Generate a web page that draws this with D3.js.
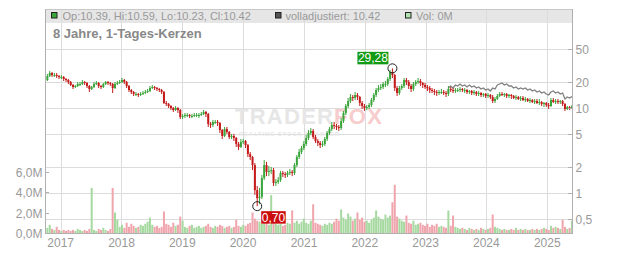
<!DOCTYPE html>
<html>
<head>
<meta charset="utf-8">
<script src="https://cdnjs.cloudflare.com/ajax/libs/d3/7.8.5/d3.min.js"></script>
<style>
  body { margin: 0; background: #fff; }
  text { font-family: "Liberation Sans", Arial, sans-serif; }
</style>
</head>
<body>
<div id="chart"></div>
<script>
// chart size
var svgWidth = 632;
var svgHeight = 253;

// plot box
var plot = { left: 45, right: 572, top: 9, bottom: 233 };

// candles: one every 14 days, starting here
var startDate = new Date(2016, 8, 29);
var stepDays = 14;
var firstOpen = 20.78;

var closes = [
  21.35, 23.80, 25.81, 24.45, 24.45, 23.80, 23.16, 23.16, 21.94, 21.35,
  20.22, 18.64, 17.66, 18.15, 19.16, 19.16, 20.22, 19.68, 18.15, 16.73,
  17.66, 19.16, 19.68, 18.15, 17.66, 19.16, 20.22, 19.68, 19.16, 17.19,
  19.16, 19.68, 20.22, 21.35, 20.22, 18.15, 16.28, 15.42, 14.61, 14.61,
  14.22, 14.61, 15.01, 15.42, 15.85, 17.19, 17.66, 17.19, 16.73, 16.28,
  15.42, 11.45, 11.14, 10.55, 10.00, 9.47, 10.00, 9.47, 7.84, 8.05,
  8.27, 8.27, 8.05, 8.05, 8.27, 8.27, 8.27, 8.50, 8.97, 8.50,
  6.49, 6.31, 6.85, 6.85, 6.66, 5.51, 4.69, 5.66, 5.22, 4.56,
  4.69, 4.44, 3.77, 3.48, 3.98, 4.09, 3.67, 2.87, 2.65, 2.13,
  1.08, 0.87, 0.90, 1.50, 2.13, 1.77, 1.82, 1.86, 1.31, 1.35,
  1.42, 1.72, 1.67, 1.63, 1.72, 1.77, 1.72, 2.13, 2.65, 3.04,
  3.38, 3.77, 4.44, 5.08, 5.37, 4.56, 4.09, 3.88, 3.67, 3.77,
  4.32, 5.08, 5.66, 6.31, 6.14, 5.98, 5.82, 7.03, 8.73, 10.55,
  12.08, 13.47, 13.11, 14.22, 13.47, 11.45, 10.55, 10.00, 10.27, 10.84,
  12.42, 14.22, 16.28, 17.19, 17.66, 19.16, 19.16, 21.94, 26.52, 24.45,
  17.19, 15.01, 17.19, 18.15, 21.35, 20.22, 18.15, 16.73, 19.16, 20.22,
  20.78, 19.68, 18.64, 17.66, 17.19, 16.28, 15.85, 15.42, 15.01, 15.42,
  15.42, 15.01, 14.61, 16.73, 16.28, 15.85, 16.28, 16.28, 16.73, 16.28,
  16.28, 15.42, 15.85, 15.01, 15.42, 14.61, 15.01, 14.22, 14.61, 13.84,
  14.22, 13.47, 12.08, 12.76, 13.84, 14.61, 14.22, 14.61, 13.84, 14.22,
  13.84, 13.11, 13.47, 12.76, 13.11, 12.42, 12.76, 12.08, 12.42, 11.76,
  12.08, 11.45, 11.76, 11.14, 11.45, 10.84, 10.55, 12.42, 11.76, 12.08,
  11.76, 12.08, 11.14, 9.73, 10.27, 10.00, 10.42
];

var highs = [
  22.54, 25.12, 27.25, 26.52, 25.81, 25.81, 24.45, 24.45, 23.80, 22.54,
  21.94, 20.78, 19.16, 18.64, 20.22, 20.22, 21.35, 20.78, 20.22, 18.64,
  18.15, 20.22, 20.78, 20.22, 18.64, 19.68, 20.78, 20.78, 20.22, 19.68,
  20.22, 20.78, 21.35, 22.54, 21.94, 20.78, 18.64, 16.73, 15.85, 15.42,
  15.01, 15.42, 15.85, 16.28, 16.73, 18.15, 18.64, 18.15, 17.66, 17.19,
  16.73, 15.85, 12.08, 11.45, 10.84, 10.27, 10.55, 10.27, 9.73, 8.50,
  8.73, 8.73, 8.50, 8.50, 8.73, 8.73, 8.73, 8.97, 9.47, 9.22,
  8.73, 6.85, 7.23, 7.23, 7.23, 6.85, 5.66, 5.98, 5.98, 5.37,
  4.95, 4.95, 4.56, 3.98, 4.32, 4.32, 4.20, 3.77, 3.04, 2.72,
  2.25, 1.21, 1.15, 1.63, 2.44, 2.32, 2.08, 2.02, 1.97, 1.46,
  1.54, 1.82, 1.82, 1.77, 1.82, 1.92, 1.86, 2.25, 2.80, 3.29,
  3.57, 4.09, 4.82, 5.51, 5.82, 5.66, 4.82, 4.32, 4.09, 4.09,
  4.56, 5.37, 5.98, 6.85, 6.85, 6.49, 6.31, 7.63, 9.22, 11.14,
  13.11, 14.61, 14.22, 15.42, 15.01, 13.84, 12.08, 11.14, 10.84, 11.45,
  13.11, 15.01, 17.19, 18.64, 19.16, 20.22, 20.78, 23.16, 28.00, 29.28,
  25.12, 18.15, 18.15, 19.16, 22.54, 22.54, 21.35, 19.16, 20.22, 21.35,
  22.54, 21.94, 20.22, 19.68, 18.64, 18.15, 17.19, 16.73, 16.28, 16.28,
  16.73, 16.28, 15.85, 18.15, 17.66, 17.19, 17.19, 17.19, 17.66, 17.19,
  17.19, 16.73, 16.28, 16.28, 16.28, 15.85, 15.85, 15.42, 15.01, 15.01,
  15.01, 14.61, 14.22, 13.47, 14.61, 15.42, 15.42, 15.01, 15.01, 14.61,
  14.61, 14.22, 14.22, 13.84, 13.84, 13.84, 13.47, 13.11, 13.11, 12.76,
  12.76, 12.76, 12.76, 12.08, 11.76, 11.76, 11.45, 13.11, 13.11, 12.76,
  12.76, 12.42, 12.42, 11.45, 10.55, 10.55, 10.84
];

var lows = [
  20.22, 20.78, 23.16, 23.16, 23.16, 22.54, 21.94, 21.94, 20.78, 20.22,
  19.16, 18.15, 16.73, 17.19, 17.66, 18.15, 18.64, 18.64, 17.19, 15.42,
  16.28, 17.19, 18.64, 17.19, 16.73, 17.19, 18.64, 18.64, 18.15, 15.01,
  16.73, 18.64, 19.16, 19.68, 19.16, 17.19, 15.42, 14.61, 13.84, 13.84,
  13.47, 13.84, 14.22, 14.61, 15.01, 15.42, 16.73, 16.28, 15.85, 15.42,
  14.61, 11.14, 10.55, 10.00, 9.47, 8.97, 9.22, 8.73, 7.42, 7.42,
  7.63, 7.84, 7.63, 7.63, 7.84, 7.84, 7.63, 8.05, 8.27, 7.84,
  5.98, 5.82, 5.98, 6.49, 6.14, 5.08, 4.32, 4.56, 4.95, 4.32,
  4.32, 4.09, 3.48, 3.20, 3.38, 3.77, 3.38, 2.65, 2.44, 1.86,
  0.95, 0.70, 0.74, 0.85, 1.42, 1.58, 1.58, 1.67, 1.21, 1.21,
  1.28, 1.35, 1.54, 1.50, 1.54, 1.63, 1.58, 1.63, 2.02, 2.51,
  2.87, 3.20, 3.57, 4.20, 4.82, 4.32, 3.88, 3.57, 3.38, 3.48,
  3.57, 4.09, 4.82, 5.37, 5.66, 5.51, 5.37, 5.51, 6.66, 8.27,
  10.00, 11.45, 12.08, 12.42, 12.42, 10.55, 9.73, 9.22, 9.47, 9.73,
  10.27, 11.76, 13.47, 15.42, 16.28, 16.73, 17.66, 18.15, 20.78, 22.54,
  15.85, 13.84, 14.22, 16.28, 17.19, 18.64, 16.73, 15.42, 15.85, 18.15,
  19.16, 18.15, 17.19, 16.73, 15.85, 15.01, 15.01, 14.22, 13.84, 14.22,
  14.61, 14.22, 13.47, 13.84, 15.42, 15.01, 15.01, 15.42, 15.42, 15.42,
  15.01, 14.61, 14.61, 14.22, 14.22, 13.84, 13.84, 13.47, 13.47, 13.11,
  13.11, 12.76, 11.45, 11.45, 12.42, 13.47, 13.84, 13.47, 13.11, 13.11,
  12.76, 12.76, 12.42, 12.42, 12.08, 12.08, 11.76, 11.76, 11.45, 11.45,
  11.14, 11.14, 10.84, 10.55, 10.27, 10.27, 9.73, 10.27, 11.45, 11.14,
  11.14, 11.14, 10.55, 9.22, 9.47, 9.47, 9.85
];

// volume in millions
var volumes = [
  0.7, 0.5, 0.8, 0.4, 0.3, 0.6, 0.3, 0.2, 0.3, 0.2,
  0.3, 0.2, 0.3, 0.2, 0.4, 0.3, 0.2, 0.3, 0.2, 0.4,
  4.4, 0.3, 0.2, 0.4, 0.3, 0.5, 0.3, 0.2, 0.4, 4.4,
  2.0, 1.3, 0.6, 0.8, 0.5, 1.0, 0.6, 0.9, 0.7, 0.5,
  0.6, 0.8, 0.7, 0.9, 1.1, 1.5, 0.8, 0.6, 0.7, 0.5,
  0.6, 2.1, 0.9, 0.8, 0.6, 1.0, 0.7, 0.8, 1.6, 1.2,
  0.6, 0.5, 0.7, 0.8, 0.5, 0.6, 0.7, 0.5, 0.6, 0.7,
  0.9, 0.6, 0.5, 0.7, 0.6, 0.8, 0.7, 0.5, 0.6, 0.7,
  0.5, 0.6, 1.3, 0.7, 0.6, 0.8, 0.7, 0.9, 1.0, 2.0,
  1.4, 1.2, 1.1, 0.9, 1.6, 1.0, 0.8, 3.7, 1.1, 0.9,
  0.8, 0.9, 0.7, 0.8, 1.0, 0.9, 2.2, 1.0, 1.2, 0.9,
  1.1, 1.4, 1.0, 0.9, 1.2, 2.8, 1.0, 0.9, 0.8, 0.7,
  0.9, 0.8, 1.0, 0.9, 1.1, 1.4, 1.2, 2.3, 1.5, 1.3,
  1.9, 1.6, 1.2, 1.4, 2.0, 1.3, 1.5, 1.1, 1.2, 1.0,
  1.3, 1.5, 2.2, 1.6, 1.4, 1.3, 1.8, 1.5, 1.7, 3.0,
  4.7, 1.6, 1.4, 1.2, 1.1, 1.7, 1.0, 0.9, 1.2, 0.8,
  0.9, 1.0, 0.8, 0.7, 0.9, 0.6, 0.8, 0.7, 0.9, 0.6,
  0.7, 0.6, 0.5, 2.2, 0.7, 1.7, 0.6, 0.5, 0.4, 0.5,
  0.4, 0.3, 0.5, 0.4, 0.3, 0.4, 0.3, 0.5, 0.4, 0.3,
  0.4, 0.5, 1.8, 0.6, 0.5, 0.4, 0.3, 0.4, 0.3, 0.3,
  0.4, 0.3, 0.5, 0.3, 0.4, 0.3, 0.4, 0.3, 0.3, 0.4,
  0.3, 0.4, 0.3, 0.4, 0.5, 0.4, 0.3, 0.7, 0.5, 0.6,
  0.5, 0.4, 1.3, 0.6, 0.4, 0.5, 1.2
];

// fully adjusted close (grey line), starts at candle adjFrom
var adjFrom = 173;
var adjusted = [
  17.19, 18.15, 17.19, 18.64, 18.15, 19.16, 18.15, 18.64, 17.66, 18.64,
  17.66, 18.15, 17.19, 17.66, 16.73, 17.19, 16.28, 16.73, 15.85, 17.19,
  16.73, 18.64, 19.16, 19.68, 18.64, 19.16, 18.15, 18.15, 17.19, 17.66,
  16.73, 17.19, 16.73, 17.19, 16.28, 16.73, 15.85, 16.28, 15.42, 15.85,
  15.01, 15.42, 14.61, 14.22, 15.42, 15.85, 15.01, 15.42, 14.61, 15.01,
  12.76, 13.47, 13.11, 13.65
];

// axes
var years = [2017, 2018, 2019, 2020, 2021, 2022, 2023, 2024, 2025];
var priceTicks = [0.5, 1, 2, 5, 10, 20, 50];
var priceLabels = ["0,5", "1", "2", "5", "10", "20", "50"];
var volTicks = [0, 2, 4, 6];
var volLabels = ["0,0M", "2,0M", "4,0M", "6,0M"];

// high / low markers
var maxIndex = 149, maxLabel = "29,28";
var minIndex = 91, minLabel = "0,70";

var svg = d3.select("#chart")
  .append("svg")
  .attr("width", svgWidth)
  .attr("height", svgHeight);

// scales
var xScale = d3.scaleTime()
  .domain([new Date(2017, 0, 1), new Date(2025, 0, 1)])
  .range([60.7, 547.3]);

var yScale = d3.scaleLog()
  .domain([1, 10])
  .range([193, 108]);

var yVol = d3.scaleLinear()
  .domain([0, 6])
  .range([233, 171.5]);

var candles = closes.map(function(c, i) {
  return {
    date: d3.timeDay.offset(startDate, i * stepDays),
    open: i === 0 ? firstOpen : closes[i - 1],
    close: c,
    high: highs[i],
    low: lows[i],
    vol: volumes[i]
  };
});

svg.append("defs").append("clipPath")
  .attr("id", "plotclip")
  .append("rect")
  .attr("x", plot.left)
  .attr("y", plot.top)
  .attr("width", plot.right - plot.left)
  .attr("height", plot.bottom - plot.top);

// header band
svg.append("rect")
  .attr("x", plot.left)
  .attr("y", plot.top)
  .attr("width", plot.right - plot.left)
  .attr("height", 14)
  .attr("fill", "#e6e6e6");

// grid
var grid = svg.append("g").attr("stroke", "#dcdcdc").attr("stroke-width", 1);

grid.selectAll(".vgrid")
  .data(years)
  .enter()
  .append("line")
  .attr("x1", d => Math.round(xScale(new Date(d, 0, 1))) + 0.5)
  .attr("x2", d => Math.round(xScale(new Date(d, 0, 1))) + 0.5)
  .attr("y1", plot.top)
  .attr("y2", plot.bottom);

grid.selectAll(".hgrid")
  .data(priceTicks)
  .enter()
  .append("line")
  .attr("x1", plot.left)
  .attr("x2", plot.right)
  .attr("y1", d => Math.round(yScale(d)) + 0.5)
  .attr("y2", d => Math.round(yScale(d)) + 0.5);

// watermark
var wm = svg.append("g");
wm.append("text")
  .attr("x", 235)
  .attr("y", 124)
  .attr("font-size", "22px")
  .attr("font-weight", "bold")
  .attr("textLength", 98)
  .attr("fill", "#e6e6e6")
  .text("TRADER");
wm.append("text")
  .attr("x", 334)
  .attr("y", 124)
  .attr("font-size", "22px")
  .attr("font-weight", "bold")
  .attr("textLength", 48)
  .attr("fill", "#f7cccc")
  .text("FOX");
wm.append("text")
  .attr("x", 239)
  .attr("y", 135.5)
  .attr("font-size", "5.5px")
  .attr("font-weight", "bold")
  .attr("textLength", 100)
  .attr("fill", "#e6e6e6")
  .text("REALTIME STOCK SCANNER");

var chartGroup = svg.append("g").attr("clip-path", "url(#plotclip)");

// volume bars
chartGroup.selectAll(".vol")
  .data(candles)
  .enter()
  .append("rect")
  .attr("x", d => xScale(d.date) - 1)
  .attr("width", 2)
  .attr("y", d => yVol(d.vol))
  .attr("height", d => yVol(0) - yVol(d.vol))
  .attr("fill", d => d.close >= d.open ? "#a6d9a0" : "#f0a4ac");

// adjusted line
var adjLine = d3.line()
  .x((d, i) => xScale(d3.timeDay.offset(startDate, (adjFrom + i) * stepDays)))
  .y(d => yScale(d));

chartGroup.append("path")
  .datum(adjusted)
  .attr("d", adjLine)
  .attr("fill", "none")
  .attr("stroke", "#808080")
  .attr("stroke-width", 1.3);

// candles
var candleGroup = chartGroup.selectAll(".candle")
  .data(candles)
  .enter()
  .append("g")
  .attr("fill", d => d.close >= d.open ? "#3aa53a" : "#c41a1a")
  .attr("stroke", d => d.close >= d.open ? "#3aa53a" : "#c41a1a");

candleGroup.append("line")
  .attr("x1", d => xScale(d.date))
  .attr("x2", d => xScale(d.date))
  .attr("y1", d => yScale(Math.max(d.high, d.open, d.close)))
  .attr("y2", d => yScale(Math.min(d.low, d.open, d.close)))
  .attr("stroke-width", 1);

candleGroup.append("rect")
  .attr("x", d => xScale(d.date) - 1)
  .attr("width", 2)
  .attr("y", d => yScale(Math.max(d.open, d.close)))
  .attr("height", d => Math.max(1, yScale(Math.min(d.open, d.close)) - yScale(Math.max(d.open, d.close))))
  .attr("stroke", "none");

// frame and axes
svg.append("line")
  .attr("x1", plot.left).attr("x2", plot.right)
  .attr("y1", plot.top + 0.5).attr("y2", plot.top + 0.5)
  .attr("stroke", "#c8c8c8");
svg.append("line")
  .attr("x1", plot.left + 0.5).attr("x2", plot.left + 0.5)
  .attr("y1", plot.top).attr("y2", plot.bottom)
  .attr("stroke", "#b0b0b0");
svg.append("line")
  .attr("x1", plot.right + 0.5).attr("x2", plot.right + 0.5)
  .attr("y1", plot.top).attr("y2", plot.bottom + 1)
  .attr("stroke", "#b0b0b0");
svg.append("line")
  .attr("x1", plot.left).attr("x2", plot.right + 1)
  .attr("y1", plot.bottom + 0.5).attr("y2", plot.bottom + 0.5)
  .attr("stroke", "#b0b0b0");

// right price axis
var rightAxis = svg.append("g");
priceTicks.forEach(function(t, i) {
  var yy = Math.round(yScale(t)) + 0.5;
  rightAxis.append("line")
    .attr("x1", plot.right - 4).attr("x2", plot.right)
    .attr("y1", yy).attr("y2", yy)
    .attr("stroke", "#b0b0b0");
  rightAxis.append("text")
    .attr("x", plot.right + 3.5)
    .attr("y", yy)
    .attr("dy", "0.36em")
    .attr("font-size", "12px")
    .attr("fill", "#999")
    .text(priceLabels[i]);
});

// left volume axis
var leftAxis = svg.append("g");
volTicks.forEach(function(t, i) {
  var yy = Math.round(yVol(t)) + 0.5;
  leftAxis.append("line")
    .attr("x1", plot.left).attr("x2", plot.left + 4)
    .attr("y1", yy).attr("y2", yy)
    .attr("stroke", "#b0b0b0");
  leftAxis.append("text")
    .attr("x", plot.left - 2.5)
    .attr("y", yy)
    .attr("dy", "0.36em")
    .attr("text-anchor", "end")
    .attr("font-size", "12px")
    .attr("fill", "#999")
    .text(volLabels[i]);
});

// year labels
svg.selectAll(".year")
  .data(years)
  .enter()
  .append("text")
  .attr("x", d => xScale(new Date(d, 0, 1)))
  .attr("y", 247)
  .attr("text-anchor", "middle")
  .attr("font-size", "12px")
  .attr("fill", "#999")
  .text(d => d);

// legend in header
var legend = svg.append("g").attr("font-size", "11px").attr("fill", "#999");
legend.append("rect").attr("x", 51.5).attr("y", 12.5).attr("width", 5.5).attr("height", 5.5)
  .attr("fill", "#3aa53a").attr("stroke", "#222");
legend.append("text").attr("x", 62.5).attr("y", 19.5).text("Op:10.39, Hi:10.59, Lo:10.23, Cl:10.42");
legend.append("rect").attr("x", 275.5).attr("y", 12.5).attr("width", 5.5).attr("height", 5.5)
  .attr("fill", "#555").attr("stroke", "#222");
legend.append("text").attr("x", 285.5).attr("y", 19.5).text("volladjustiert: 10.42");
legend.append("rect").attr("x", 405.5).attr("y", 12.5).attr("width", 5.5).attr("height", 5.5)
  .attr("fill", "#b0e2b0").attr("stroke", "#222");
legend.append("text").attr("x", 416).attr("y", 19.5).text("Vol: 0M");

// title
svg.append("text")
  .attr("x", 53)
  .attr("y", 38)
  .attr("font-size", "13px")
  .attr("font-weight", "bold")
  .attr("fill", "#888")
  .text("8 Jahre, 1-Tages-Kerzen");

// max / min markers
var maxC = candles[maxIndex];
var minC = candles[minIndex];
var mx = xScale(maxC.date), my = yScale(maxC.high);
var nx = xScale(minC.date), ny = yScale(minC.low);

svg.append("circle").attr("cx", mx).attr("cy", my).attr("r", 4.5)
  .attr("fill", "none").attr("stroke", "#222").attr("stroke-width", 1);
svg.append("circle").attr("cx", nx).attr("cy", ny).attr("r", 4.5)
  .attr("fill", "none").attr("stroke", "#222").attr("stroke-width", 1);

svg.append("rect").attr("x", mx - 35).attr("y", my - 16.5).attr("width", 31).attr("height", 12.5)
  .attr("fill", "#129a12");
svg.append("text").attr("x", mx - 19.5).attr("y", my - 6)
  .attr("text-anchor", "middle").attr("font-size", "12px").attr("fill", "#fff")
  .text(maxLabel);

svg.append("rect").attr("x", nx + 4).attr("y", ny + 5).attr("width", 24.5).attr("height", 12.5)
  .attr("fill", "#cc0d0d");
svg.append("text").attr("x", nx + 16.25).attr("y", ny + 15.5)
  .attr("text-anchor", "middle").attr("font-size", "12px").attr("fill", "#fff")
  .text(minLabel);
</script>
</body>
</html>
